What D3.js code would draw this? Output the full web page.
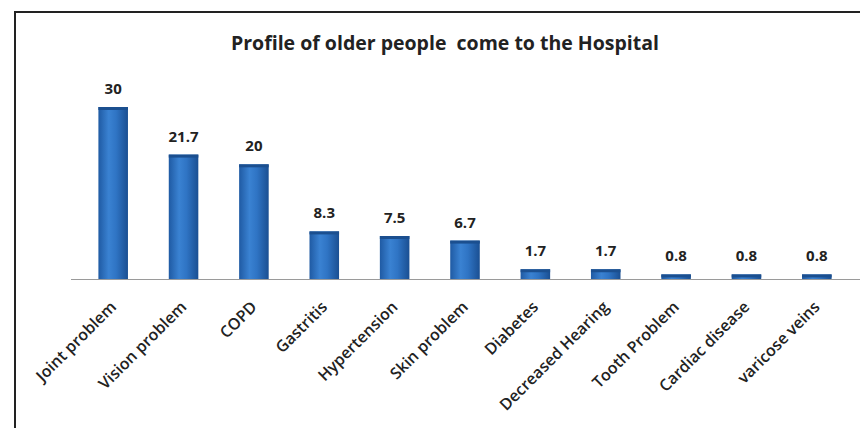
<!DOCTYPE html>
<html>
<head>
<meta charset="utf-8">
<script src="https://cdn.jsdelivr.net/npm/d3@7"></script>
<style>
  body { margin: 0; background: #fff; }
  svg { display: block; }
</style>
</head>
<body>
<div id="chart"></div>
<script>
// data
var categories = ['Joint problem', 'Vision problem', 'COPD', 'Gastritis', 'Hypertension',
  'Skin problem', 'Diabetes', 'Decreased Hearing', 'Tooth Problem', 'Cardiac disease', 'varicose veins'];
var values = [30, 21.7, 20, 8.3, 7.5, 6.7, 1.7, 1.7, 0.8, 0.8, 0.8];
var title = 'Profile of older people  come to the Hospital';

var width = 860, height = 428;
var font = '"Open Sans", "Liberation Sans", Arial, sans-serif';

var svg = d3.select('#chart').append('svg')
  .attr('width', width)
  .attr('height', height);

// frame (only top and left edges show in the crop)
svg.append('path')
  .attr('d', 'M15,428 L15,12 L860,12')
  .attr('fill', 'none')
  .attr('stroke', '#222')
  .attr('stroke-width', 2);

var x = d3.scaleBand()
  .domain(categories)
  .range([78, 852])
  .paddingInner(0.58)
  .paddingOuter(0.29);

var y = d3.scaleLinear()
  .domain([0, 30])
  .range([279, 107]);

// cylinder-ish shading
var defs = svg.append('defs');
var grad = defs.append('linearGradient')
  .attr('id', 'barGrad')
  .attr('x1', '0%').attr('x2', '100%')
  .attr('y1', '0%').attr('y2', '0%');
grad.append('stop').attr('offset', '0%').attr('stop-color', '#1f5aa3');
grad.append('stop').attr('offset', '35%').attr('stop-color', '#3a82d2');
grad.append('stop').attr('offset', '60%').attr('stop-color', '#2f74c4');
grad.append('stop').attr('offset', '100%').attr('stop-color', '#1a4f92');

var data = categories.map(function(c, i) { return {cat: c, val: values[i]}; });

var bars = svg.selectAll('.bar')
  .data(data)
  .enter().append('g')
  .attr('class', 'bar');

bars.append('rect')
  .attr('x', function(d) { return x(d.cat); })
  .attr('y', function(d) { return y(d.val); })
  .attr('width', x.bandwidth())
  .attr('height', function(d) { return y(0) - y(d.val); })
  .attr('fill', 'url(#barGrad)');

// darker rim on top of each bar
bars.append('rect')
  .attr('x', function(d) { return x(d.cat); })
  .attr('y', function(d) { return y(d.val); })
  .attr('width', x.bandwidth())
  .attr('height', function(d) { return Math.min(3, y(0) - y(d.val)); })
  .attr('fill', '#1b4f8f');

// baseline
svg.append('line')
  .attr('x1', 71).attr('x2', 860)
  .attr('y1', y(0) + 0.5).attr('y2', y(0) + 0.5)
  .attr('stroke', '#9a9a9a')
  .attr('stroke-width', 1);

// value labels
bars.append('text')
  .attr('x', function(d) { return x(d.cat) + x.bandwidth() / 2; })
  .attr('y', function(d) { return y(d.val) - 13; })
  .attr('text-anchor', 'middle')
  .style('font-family', font)
  .style('font-size', '15px')
  .style('font-weight', 'bold')
  .style('fill', '#222')
  .text(function(d) { return d.val; });

// category labels, rotated
bars.append('text')
  .attr('transform', function(d) {
    return 'translate(' + (x(d.cat) + x.bandwidth() / 2 + 4) + ',' + (y(0) + 29) + ') rotate(-45)';
  })
  .attr('text-anchor', 'end')
  .style('font-family', font)
  .style('font-size', '16px')
  .style('font-weight', '600')
  .style('fill', '#222')
  .text(function(d) { return d.cat; });

// title
svg.append('text')
  .attr('x', 445)
  .attr('y', 50)
  .attr('text-anchor', 'middle')
  .style('font-family', font)
  .style('font-size', '19.5px')
  .style('font-weight', 'bold')
  .style('fill', '#222')
  .style('white-space', 'pre')
  .text(title);
</script>
</body>
</html>
